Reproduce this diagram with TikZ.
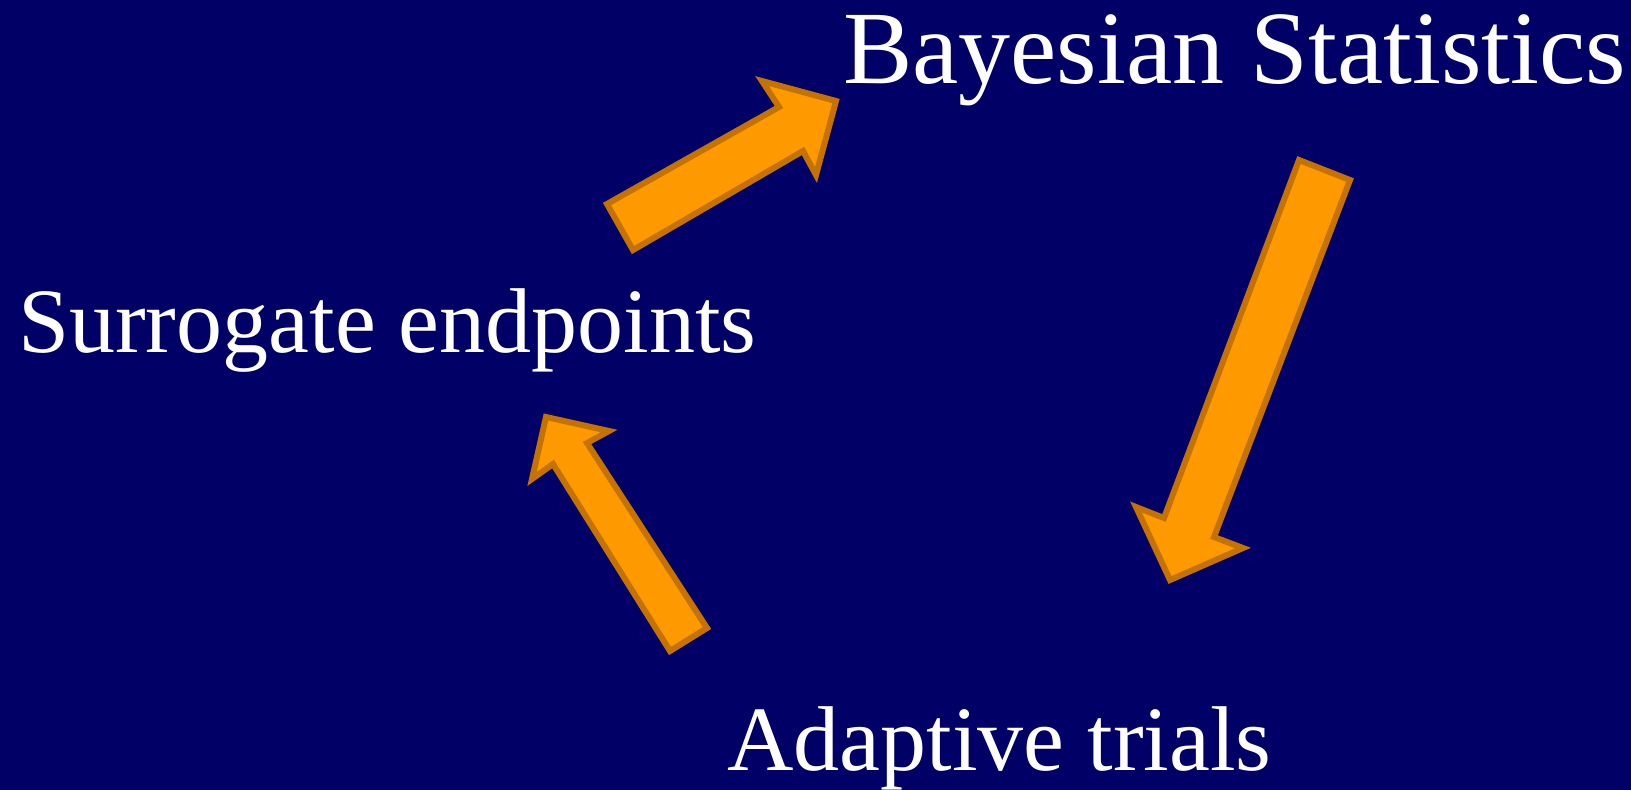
\documentclass[tikz,border=0pt]{standalone}
\usepackage{fontspec}
\setmainfont{Liberation Serif}
\definecolor{slidenavy}{RGB}{0,0,102}
\definecolor{arrowfill}{RGB}{255,153,0}
\definecolor{arrowedge}{RGB}{196,114,0}
\begin{document}
\begin{tikzpicture}[x=1pt,y=-1pt,
  label/.style={text=white,inner sep=0pt,anchor=base west},
  blockarrow/.style={fill=arrowfill,draw=arrowedge,line width=6pt,line join=miter}]
  % navy slide background
  \fill[slidenavy] (0,0) rectangle (1631,790);
  \useasboundingbox (0,0) rectangle (1631,790);

  % topic labels
  \node[label,font=\fontsize{104}{110}\selectfont] (bayes) at (843,83) {Bayesian Statistics};
  \node[label,font=\fontsize{92}{100}\selectfont] (surr) at (18,352) {Surrogate endpoints};
  \node[label,font=\fontsize{92}{100}\selectfont] (adapt) at (727,770) {Adaptive trials};

  % surrogate endpoints -> Bayesian statistics
  \draw[blockarrow] (607,204) -- (633,250) -- (803,151) -- (816,175) -- (836,101)
    -- (762,81) -- (779,107) -- cycle;
  % Bayesian statistics -> adaptive trials
  \draw[blockarrow] (1299,160) -- (1350,180) -- (1214,537) -- (1243,548) -- (1170,580)
    -- (1136,507) -- (1164,518) -- cycle;
  % adaptive trials -> surrogate endpoints
  \draw[blockarrow] (707,628) -- (670,651) -- (553,464) -- (532,479) -- (546,417)
    -- (609,431) -- (587,443) -- cycle;
\end{tikzpicture}
\end{document}
